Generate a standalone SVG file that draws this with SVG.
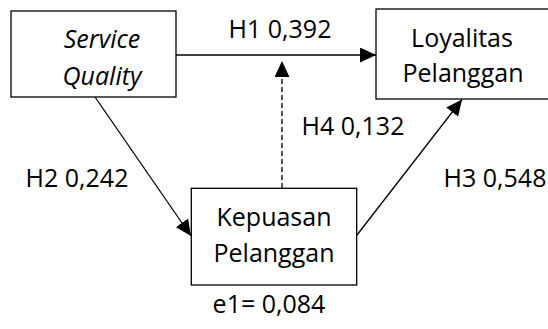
<svg xmlns="http://www.w3.org/2000/svg" width="548" height="329" viewBox="0 0 548 329">
  <style>
    .box { fill: #ffffff; stroke: #000000; stroke-width: 1.3; }
    .t { font-family: "Open Sans", "Liberation Sans", sans-serif; font-size: 25px; fill: #000000; text-anchor: middle; }
    .it { font-style: italic; }
    .link { fill: none; stroke: #000000; stroke-width: 1.3; }
    .dash { stroke-dasharray: 5 3; }
  </style>
  <defs>
    <marker id="arrow" markerUnits="userSpaceOnUse" markerWidth="16" markerHeight="15" refX="16" refY="7.5" orient="auto">
      <path d="M0,0 L16,7.5 L0,15 Z" fill="#000000"/>
    </marker>
  </defs>
  <rect width="548" height="329" fill="#ffffff"/>

  <!-- connectors -->
  <g id="connectors">
    <line class="link" x1="176" y1="55" x2="376" y2="55" marker-end="url(#arrow)"/>
    <line class="link" x1="95" y1="97" x2="191" y2="236" marker-end="url(#arrow)"/>
    <line class="link" x1="357" y1="235" x2="462" y2="99.5" marker-end="url(#arrow)"/>
    <line class="link dash" x1="282" y1="188" x2="282" y2="61" marker-end="url(#arrow)"/>
  </g>

  <!-- path coefficients -->
  <g id="labels">
    <text class="t" x="280" y="38">H1 0,392</text>
    <text class="t" x="353" y="135">H4 0,132</text>
    <text class="t" x="77" y="187">H2 0,242</text>
    <text class="t" x="495" y="187">H3 0,548</text>
    <text class="t" x="269" y="313">e1= 0,084</text>
  </g>

  <g id="service-quality">
    <rect class="box" x="11" y="11" width="165" height="86"/>
    <text class="t it" x="102" y="48">Service</text>
    <text class="t it" x="102" y="85">Quality</text>
  </g>

  <g id="loyalitas-pelanggan">
    <rect class="box" x="376" y="9" width="180" height="90"/>
    <text class="t" x="462" y="47">Loyalitas</text>
    <text class="t" x="463" y="82">Pelanggan</text>
  </g>

  <g id="kepuasan-pelanggan">
    <rect class="box" x="191.3" y="188.3" width="165.4" height="96.7"/>
    <text class="t" x="274" y="226">Kepuasan</text>
    <text class="t" x="274" y="262">Pelanggan</text>
  </g>
</svg>
